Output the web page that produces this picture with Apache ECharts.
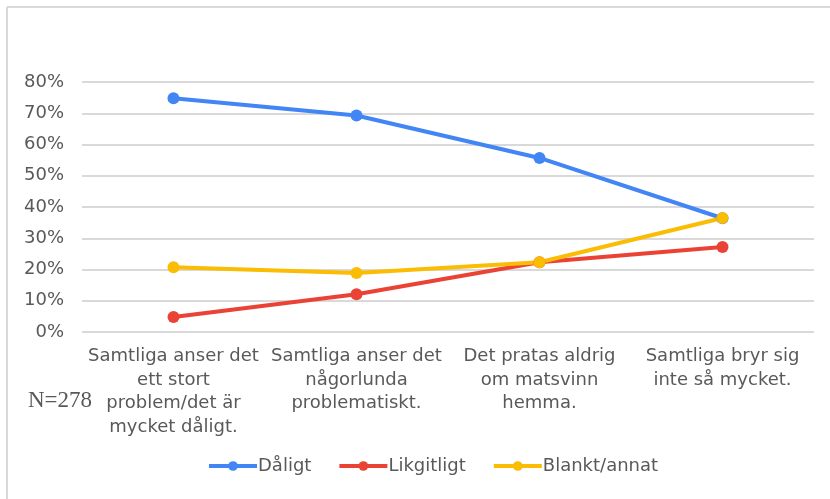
<!DOCTYPE html>
<html lang="sv">
  <head>
    <meta charset="UTF-8" />
    <title>Matsvinn</title>
    <style>
      html, body { margin: 0; padding: 0; background: #fff; }
      #main { width: 830px; height: 499px; }
    </style>
  </head>
  <body>
    <div id="main"></div>
    <script src="https://cdn.jsdelivr.net/npm/echarts@6/dist/echarts.min.js"></script>
    <script>
      /* globals echarts */
      var categories = [
        "Samtliga anser det\nett stort\nproblem/det är\nmycket dåligt.",
        "Samtliga anser det\nnågorlunda\nproblematiskt.",
        "Det pratas aldrig\nom matsvinn\nhemma.",
        "Samtliga bryr sig\ninte så mycket."
      ];
      var daligt = [74.8, 69.3, 55.7, 36.4];
      var likgiltigt = [4.8, 12.1, 22.3, 27.2];
      var blankt = [20.7, 18.9, 22.3, 36.5];
      var yTicks = [0, 10, 20, 30, 40, 50, 60, 70, 80];

      var chart = echarts.init(document.getElementById("main"));
      var font = "DejaVu Sans";
      var grey = "#595959";

      function line(name, data, color) {
        return {
          name: name,
          type: "line",
          data: data,
          symbol: "circle",
          symbolSize: 12,
          itemStyle: { color: color },
          lineStyle: { color: color, width: 4 },
          emphasis: { disabled: true }
        };
      }

      chart.setOption({
        animation: false,
        graphic: [
          { type: "line", shape: { x1: 7, y1: 7, x2: 830, y2: 7 }, style: { stroke: "#d9d9d9", lineWidth: 2 } },
          { type: "line", shape: { x1: 7, y1: 7, x2: 7, y2: 499 }, style: { stroke: "#d9d9d9", lineWidth: 2 } },
          {
            type: "text", left: 28, top: 389,
            style: { text: "N=278", font: '23px "Liberation Serif"', fill: grey }
          }
        ],
        grid: { left: 82, right: 16, top: 82, bottom: 167 },
        legend: {
          bottom: 19,
          left: 202,
          itemWidth: 48,
          itemHeight: 12,
          itemGap: 26,
          lineStyle: { width: 4 },
          textStyle: { fontFamily: font, fontSize: 18, color: grey, padding: [0, 0, 0, -4] },
          data: ["Dåligt", "Likgitligt", "Blankt/annat"]
        },
        xAxis: {
          type: "category",
          data: categories,
          axisLine: { show: false },
          axisTick: { show: false },
          axisLabel: {
            interval: 0,
            margin: 13,
            fontFamily: font,
            fontSize: 18,
            lineHeight: 23.5,
            color: grey
          }
        },
        yAxis: {
          type: "value",
          min: yTicks[0],
          max: yTicks[yTicks.length - 1],
          interval: 10,
          axisLabel: {
            margin: 18,
            fontFamily: font,
            fontSize: 18,
            color: grey,
            formatter: "{value}%"
          },
          splitLine: { lineStyle: { color: "#d9d9d9", width: 2 } }
        },
        series: [
          line("Dåligt", daligt, "#4285F4"),
          line("Likgitligt", likgiltigt, "#EA4335"),
          line("Blankt/annat", blankt, "#FBBC04")
        ]
      });
    </script>
  </body>
</html>
